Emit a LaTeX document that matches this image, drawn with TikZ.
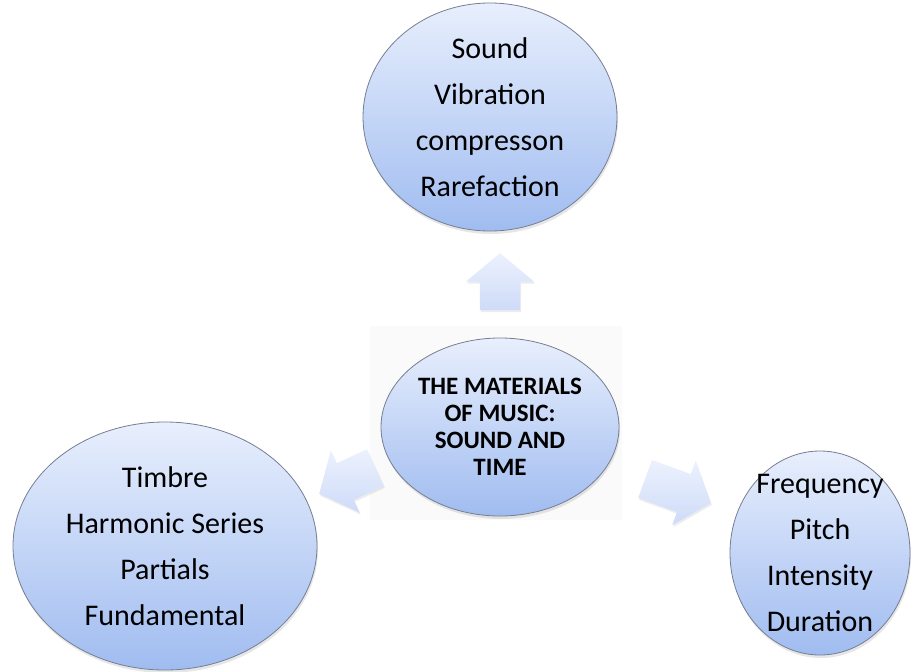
\documentclass[tikz,border=0pt]{standalone}
\usepackage{fontspec}
\setmainfont{Carlito}
\usepackage{tikz}
\usetikzlibrary{shapes.geometric,shapes.arrows,shadows,positioning}
\definecolor{ovaltop}{RGB}{232,239,253}
\definecolor{ovalbot}{RGB}{160,188,240}
\definecolor{ovaledge}{RGB}{118,126,145}
\definecolor{arrtop}{RGB}{236,241,253}
\definecolor{arrbot}{RGB}{206,219,248}
\definecolor{backbox}{RGB}{250,250,250}

\begin{document}
\begin{tikzpicture}[x=1pt,y=-1pt,
	oval/.style={ellipse,draw=ovaledge,line width=0.8pt,top color=ovaltop,bottom color=ovalbot,inner sep=0pt,
		drop shadow={opacity=0.2,shadow xshift=1pt,shadow yshift=-3pt}},
	ovaltext/.style={align=center,inner sep=0pt,font=\fontsize{30}{46}\selectfont},
	fatarrow/.style={single arrow,top color=arrtop,bottom color=arrbot,inner xsep=0pt,inner ysep=20pt,
		single arrow head extend=14pt,single arrow tip angle=100,
		drop shadow={opacity=0.15,shadow xshift=1pt,shadow yshift=-2pt}}]
	\useasboundingbox (0,0) rectangle (913,672);
	\fill[backbox] (370,326) rectangle (622,520);
	\node[oval,minimum width=238,minimum height=178] (materials) at (500,427) {};
	\node[align=center,inner sep=0pt,font=\fontsize{25}{27}\selectfont\bfseries] at (materials) {THE MATERIALS\\OF MUSIC:\\SOUND AND\\TIME};
	\node[oval,minimum width=254,minimum height=228] (sound) at (490,117) {};
	\node[ovaltext] at (sound) {Sound\\Vibration\\compresson\\Rarefaction};
	\node[oval,minimum width=304,minimum height=248] (timbre) at (165,546) {};
	\node[ovaltext] at (timbre) {Timbre\\Harmonic Series\\Partials\\Fundamental};
	\node[oval,minimum width=180,minimum height=204] (pitch) at (820,553) {};
	\node[ovaltext] at (pitch) {Frequency\\Pitch\\Intensity\\Duration};
	\node[fatarrow,minimum height=57pt,rotate=90] (up) at (500,290) {};
	\node[fatarrow,minimum height=70pt,rotate=-20] (right) at (670,488) {};
	\node[fatarrow,minimum height=62pt,rotate=205] (left) at (355,477) {};
\end{tikzpicture}
\end{document}
